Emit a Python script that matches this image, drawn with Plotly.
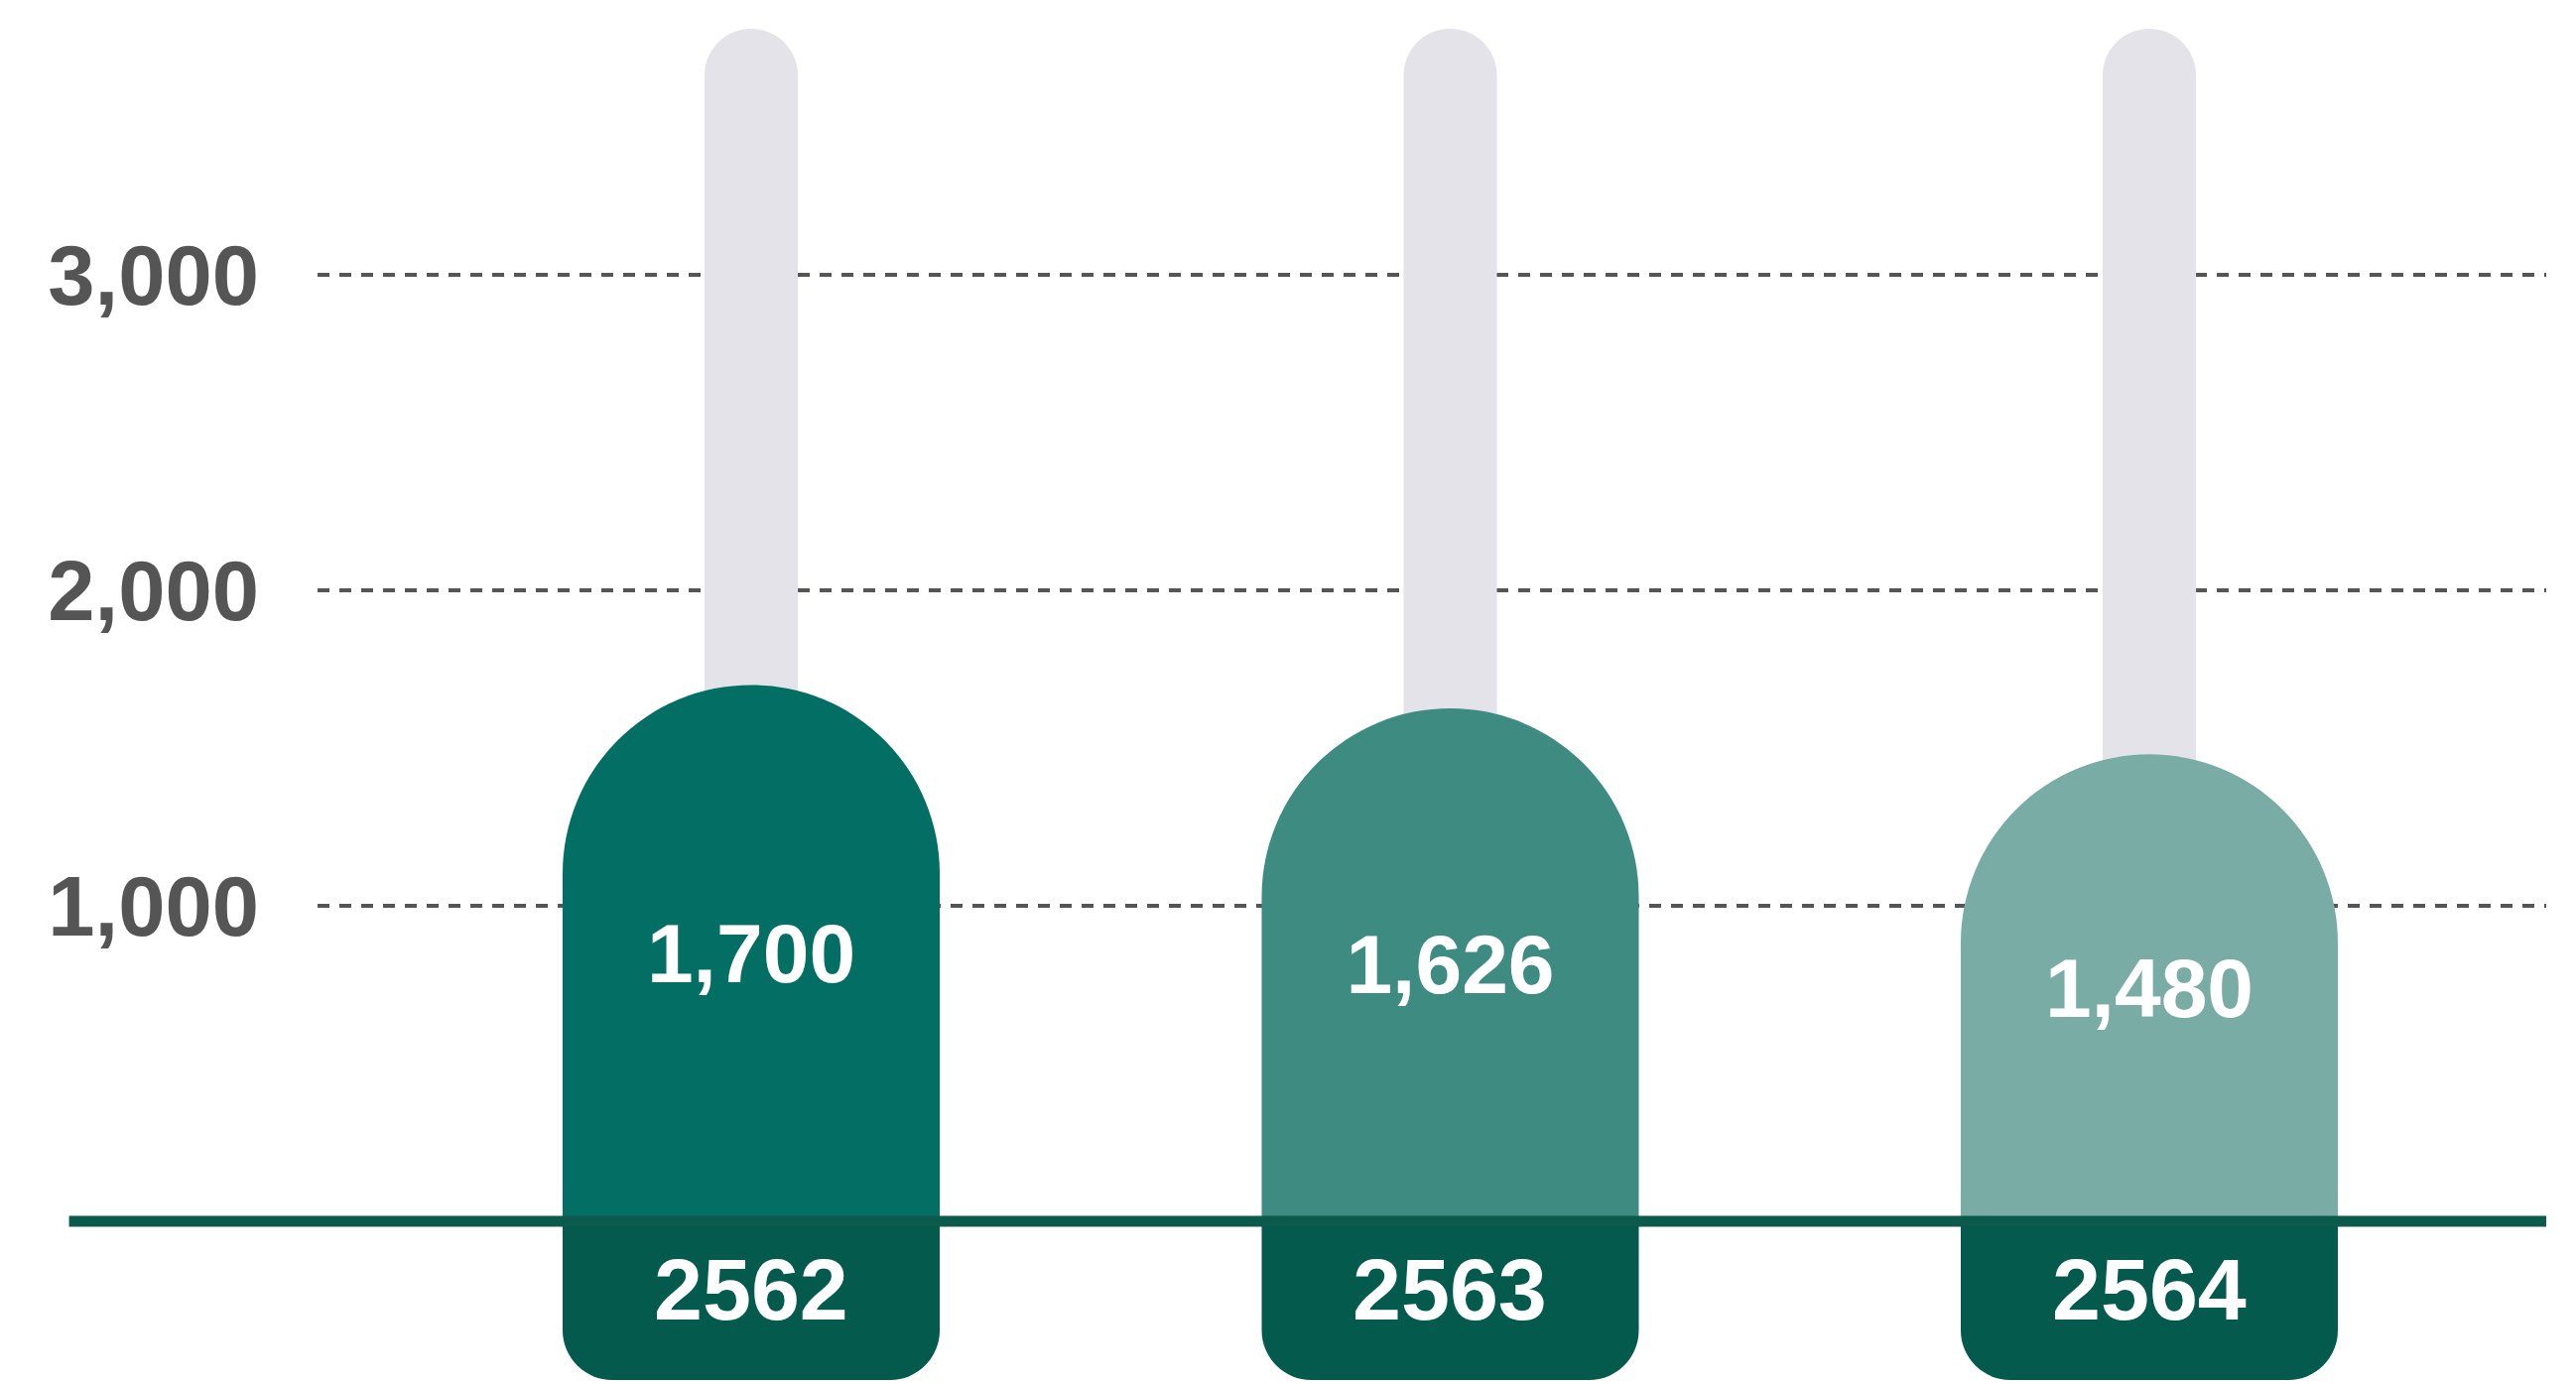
import plotly.graph_objects as go

# ---- data ----
years = ["2562", "2563", "2564"]
values = [1700, 1626, 1480]
track_values = [3780, 3780, 3780]
tick_values = [1000, 2000, 3000]

# ---- styles ----
bar_colors = ["#036e63", "#3e8b82", "#7aaca6"]
track_color = "#e4e3e9"
year_box_color = "#045a4c"
baseline_color = "#0b5a4b"
grid_color = "#555555"
tick_color = "#555555"
FONT = "Liberation Sans, Arial, Helvetica, sans-serif"
YEAR_BOX_DEPTH = -503
YEAR_LABEL_FRAC = 0.43
X_RANGE = [-0.6203, 2.5678]
Y_RANGE = [-515.7, 3871]

x_idx = list(range(len(years)))

fig = go.Figure()

# background track (grey pill) on the base axes
fig.add_trace(go.Bar(
    x=x_idx, y=track_values, width=0.1336,
    marker=dict(color=track_color, cornerradius="50%", line=dict(width=0)),
    hoverinfo="skip", showlegend=False,
))

# year boxes below the baseline
fig.add_trace(go.Bar(
    x=x_idx, y=[YEAR_BOX_DEPTH] * len(years), width=0.5394,
    marker=dict(color=year_box_color, cornerradius=50, line=dict(width=0)),
    hoverinfo="skip", showlegend=False,
))

# value bars with dome top, on overlaying axes (drawn above the track)
fig.add_trace(go.Bar(
    x=x_idx, y=values, width=0.5394, xaxis="x2", yaxis="y2",
    marker=dict(color=bar_colors, cornerradius="50%", line=dict(width=0)),
    text=[f"{v:,}" for v in values],
    textposition="inside", insidetextanchor="middle", textangle=0,
    textfont=dict(family=FONT, size=84, color="white", weight="bold"),
    constraintext="none",
    customdata=years,
    hovertemplate="%{customdata}: %{text}<extra></extra>", showlegend=False,
))

for i, yr in enumerate(years):
    fig.add_annotation(
        x=x_idx[i], y=YEAR_BOX_DEPTH * YEAR_LABEL_FRAC, xref="x", yref="y",
        text=yr, showarrow=False, xanchor="center", yanchor="middle",
        font=dict(family=FONT, size=88, color="white", weight="bold"),
    )

# baseline
fig.add_shape(
    type="line", xref="paper", yref="y",
    x0=-0.1115, x1=1.0, y0=0, y1=0,
    line=dict(color=baseline_color, width=11), layer="above",
)

fig.update_layout(
    width=2596, height=1395,
    margin=dict(l=320, r=30, t=0, b=0, pad=0),
    paper_bgcolor="white", plot_bgcolor="white",
    barmode="overlay", showlegend=False,
    xaxis=dict(
        range=X_RANGE, showgrid=False, zeroline=False,
        showticklabels=False, showline=False, ticks="", fixedrange=True,
    ),
    xaxis2=dict(
        overlaying="x", range=X_RANGE, visible=False, fixedrange=True,
    ),
    yaxis=dict(
        range=Y_RANGE, tickvals=tick_values, tickformat=",",
        showgrid=True, gridcolor=grid_color, gridwidth=4, griddash="12px,10px",
        zeroline=False, showline=False, ticks="",
        ticklabelstandoff=58,
        tickfont=dict(family=FONT, size=85, color=tick_color, weight="bold"),
        fixedrange=True,
    ),
    yaxis2=dict(
        overlaying="y", range=Y_RANGE, visible=False, fixedrange=True,
        showgrid=False, zeroline=False,
    ),
)

fig.write_html(
    "out.html",
    config={"displayModeBar": False},
    post_script="document.body.style.margin='0';document.body.style.overflow='hidden';",
)
